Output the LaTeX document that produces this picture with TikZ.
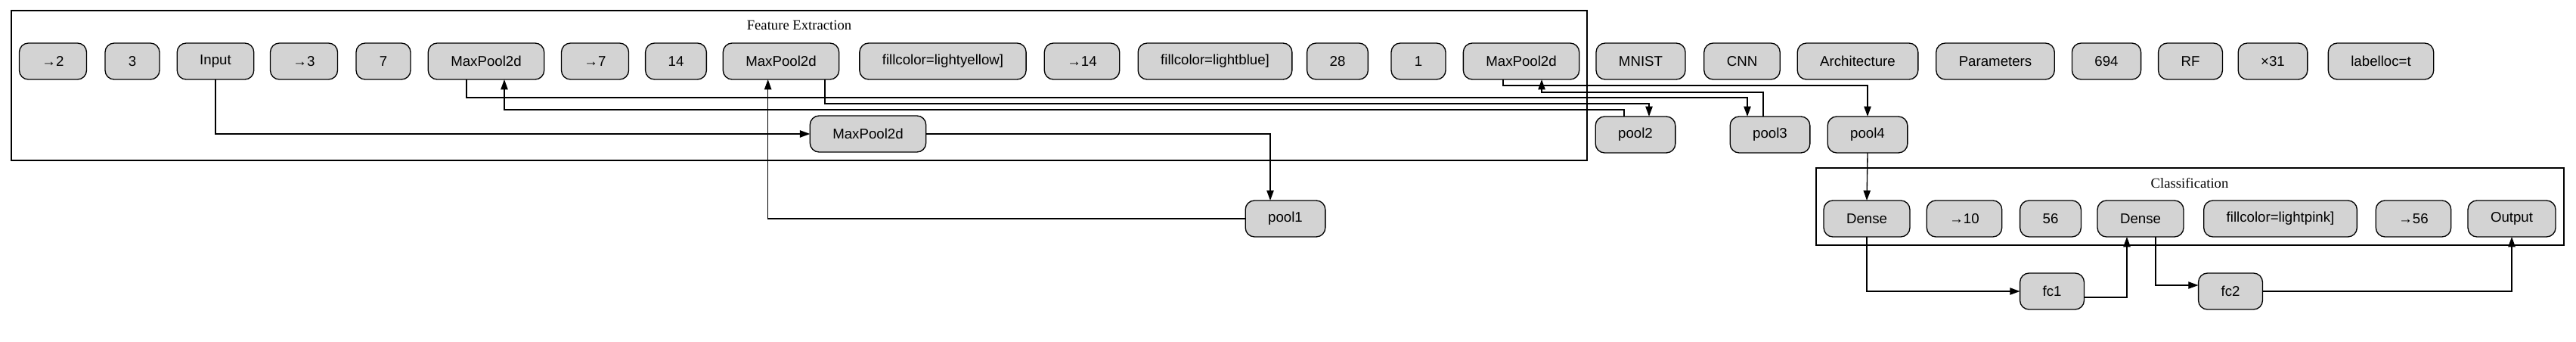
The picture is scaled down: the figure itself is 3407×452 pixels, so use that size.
\documentclass[tikz,border=0pt]{standalone}
\usepackage{fontspec}
\setmainfont{Liberation Sans}
\newfontfamily\labelfont{Liberation Serif}
\usetikzlibrary{arrows.meta}
\definecolor{layergray}{RGB}{211,211,211}
\begin{document}
\begin{tikzpicture}[x=0.75pt,y=-0.75pt,inner sep=0pt,outer sep=0pt,line width=1pt,
>={Triangle[length=10pt,width=7pt]},
layerblock/.style={draw,fill=layergray,rectangle,rounded corners=9pt,inner xsep=22.5pt,minimum width=54pt,minimum height=36pt,font=\fontsize{14}{16}\selectfont},
groupbox/.style={draw,line width=1pt},
grouplabel/.style={font=\labelfont\fontsize{14}{16}\selectfont}]
\useasboundingbox (0,0) rectangle (3407,452);
\draw[groupbox] (15,14) rectangle (2099,212);
\draw (1057,33) node[grouplabel] (fetitle) {Feature Extraction};
\draw[groupbox] (2402,222) rectangle (3391,324);
\draw (2896,242) node[grouplabel] (cltitle) {Classification};
\draw (70,81) node[layerblock] (to2) {→2};
\draw (175,81) node[layerblock] (three) {3};
\draw (285,81) node[layerblock] (input) {Input};
\draw (402,81) node[layerblock] (to3) {→3};
\draw (507,81) node[layerblock] (seven) {7};
\draw (643,81) node[layerblock] (mpa) {MaxPool2d};
\draw (787,81) node[layerblock] (to7) {→7};
\draw (894,81) node[layerblock] (fourteen) {14};
\draw (1033,81) node[layerblock] (mpb) {MaxPool2d};
\draw (1247,81) node[layerblock] (fillyellow) {fillcolor=lightyellow]};
\draw (1431,81) node[layerblock] (to14) {→14};
\draw (1607,81) node[layerblock] (fillblue) {fillcolor=lightblue]};
\draw (1769,81) node[layerblock] (twentyeight) {28};
\draw (1876,81) node[layerblock] (one) {1};
\draw (2012,81) node[layerblock] (mpc) {MaxPool2d};
\draw (1148,177) node[layerblock] (mpd) {MaxPool2d};
\draw (2170,81) node[layerblock] (mnist) {MNIST};
\draw (2304,81) node[layerblock] (cnn) {CNN};
\draw (2457,81) node[layerblock] (arch) {Architecture};
\draw (2639,81) node[layerblock] (params) {Parameters};
\draw (2786,81) node[layerblock] (count) {694};
\draw (2897,81) node[layerblock] (rf) {RF};
\draw (3006,81) node[layerblock] (times31) {×31};
\draw (3149,81) node[layerblock] (labelloc) {labelloc=t};
\draw (1700,289) node[layerblock] (pool1) {pool1};
\draw (2163,178) node[layerblock] (pool2) {pool2};
\draw (2341,178) node[layerblock] (pool3) {pool3};
\draw (2470,178) node[layerblock] (pool4) {pool4};
\draw (2469,289) node[layerblock] (densea) {Dense};
\draw (2598,289) node[layerblock] (to10) {→10};
\draw (2712,289) node[layerblock] (fiftysix) {56};
\draw (2831,289) node[layerblock] (denseb) {Dense};
\draw (3016,289) node[layerblock] (fillpink) {fillcolor=lightpink]};
\draw (3192,289) node[layerblock] (to56) {→56};
\draw (3322,289) node[layerblock] (output) {Output};
\draw (2714,385) node[layerblock] (fc1) {fc1};
\draw (2950,385) node[layerblock] (fc2) {fc2};
\draw[->] (input.south) |- (mpd.west);
\draw[->] (mpd.east) -| ([xshift=-15pt]pool1.north);
\draw[->] (pool1.west) -| ([xshift=-13pt]mpb.south);
\draw[->] ([xshift=-19.5pt]mpa.south) -- ++(0,24) -| ([xshift=-22.5pt]pool3.north);
\draw[->] ([xshift=43.5pt]mpb.south) -- ++(0,32) -| ([xshift=13.5pt]pool2.north);
\draw[->] ([xshift=-11.25pt]pool2.north) -- ++(0,-9) -| ([xshift=18pt]mpa.south);
\draw[->] ([xshift=-18pt]mpc.south) -- ++(0,8) -| (pool4.north);
\draw[->] ([xshift=-6.75pt]pool3.north) -- ++(0,-32) -| ([xshift=20.25pt]mpc.south);
\draw[->] (pool4.south) -- (densea.north);
\draw[->] (densea.south) |- (fc1.west);
\draw[->] ([yshift=-6pt]fc1.east) -| ([xshift=-13.5pt]denseb.south);
\draw[->] ([xshift=15pt]denseb.south) |- ([yshift=6pt]fc2.west);
\draw[->] (fc2.east) -| (output.south);
\end{tikzpicture}
\end{document}
